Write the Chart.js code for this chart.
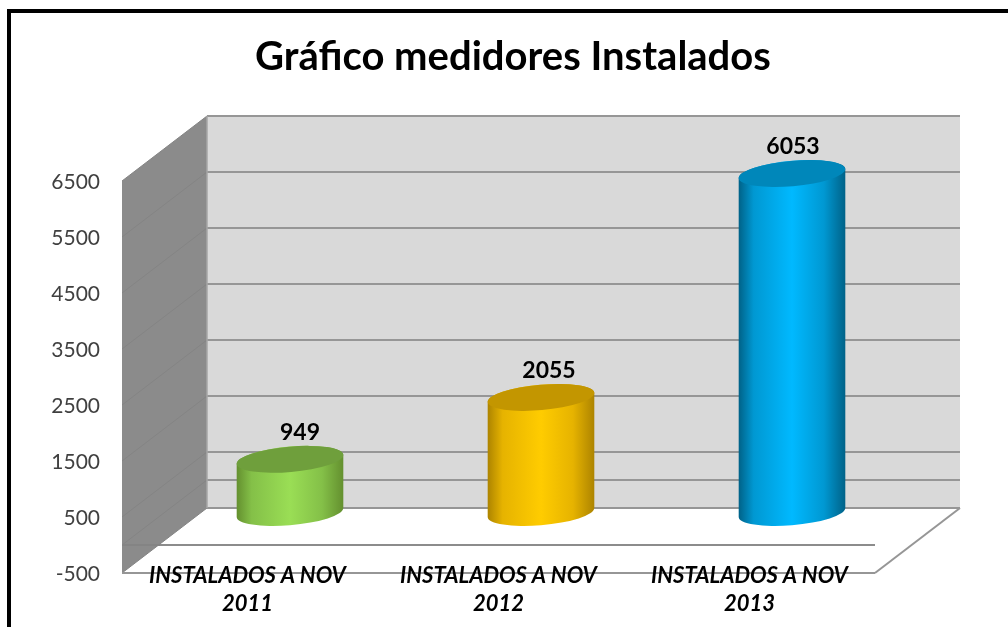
<!DOCTYPE html>
<html><head><meta charset="utf-8">
<style>html,body{margin:0;padding:0;background:#fff}#w{position:absolute;left:0;top:0;width:1008px;height:627px}</style>
<script src="https://cdn.jsdelivr.net/npm/chart.js@4"></script>
</head><body><div id="w"><canvas id="c" width="1008" height="627"></canvas></div>
<script>
const titleText = 'Gráfico medidores Instalados';
const categories = [['INSTALADOS A NOV','2011'],['INSTALADOS A NOV','2012'],['INSTALADOS A NOV','2013']];
const values = [949, 2055, 6053];
const yTicks = [-500,500,1500,2500,3500,4500,5500,6500];
const extraGridValue = 0;
const bright = ['#9ade55','#ffcc00','#00b9ff'];
const dark = ['#64902f','#ad8400','#006288'];
const mid = ['#84c048','#e6b300','#0098d2'];
const topFill = ['#6f9f3c','#c39600','#0087ba'];
const labelShift = [10, 8, 1];

const DX = 85, DY = -65;
const TILT = -5 * Math.PI / 180, RY = 12.7;

// the bars are cylinders, standing half way through the depth of the 3D box
Chart.BarElement.prototype.draw = function (ctx) {
  const idx = this.$context ? this.$context.dataIndex : 0;
  const cx = this.x + DX / 2, ty = this.y + DY / 2, by = this.base + DY / 2;
  const rx = this.width / 2 + 0.5;
  const tR = Math.atan2(-RY * Math.sin(TILT), rx * Math.cos(TILT));
  const px = rx * Math.cos(tR) * Math.cos(TILT) - RY * Math.sin(tR) * Math.sin(TILT);
  const py = rx * Math.cos(tR) * Math.sin(TILT) + RY * Math.sin(tR) * Math.cos(TILT);
  const g = ctx.createLinearGradient(cx - px, 0, cx + px, 0);
  g.addColorStop(0, dark[idx]); g.addColorStop(0.14, mid[idx]); g.addColorStop(0.5, bright[idx]);
  g.addColorStop(0.8, mid[idx]); g.addColorStop(1, dark[idx]);
  ctx.save();
  ctx.beginPath();
  ctx.moveTo(cx + px, ty + py);
  ctx.lineTo(cx + px, by + py);
  ctx.ellipse(cx, by, rx, RY, TILT, tR, tR + Math.PI, false);
  ctx.lineTo(cx - px, ty - py);
  ctx.ellipse(cx, ty, rx, RY, TILT, tR + Math.PI, tR + 2 * Math.PI, false);
  ctx.closePath();
  ctx.fillStyle = g; ctx.fill();
  ctx.beginPath();
  ctx.ellipse(cx, ty, rx, RY, TILT, 0, 2 * Math.PI);
  ctx.fillStyle = topFill[idx]; ctx.fill();
  ctx.restore();
};

const box3d = {
  id: 'box3d',
  afterLayout(chart) {
    chart.titleBlock.left = 18; chart.titleBlock.right = 1008;
    // category labels overlap the floor edge, so they must not be clipped to the axis box
    chart.scales.x._computeLabelArea = () => undefined;
    const y = chart.scales.y, orig = y._computeLabelItems;
    y._computeLabelItems = function (a) {
      const items = orig.call(this, a);
      items.forEach(it => { it.options.translation[1] += 1; });
      return items;
    };
  },
  beforeDraw(chart) {
    const { ctx, chartArea: a, scales: { y } } = chart;
    const line = (x1, y1, x2, y2, col, w) => {
      ctx.beginPath(); ctx.moveTo(x1, y1); ctx.lineTo(x2, y2);
      ctx.strokeStyle = col; ctx.lineWidth = w; ctx.stroke();
    };
    ctx.save();
    ctx.fillStyle = '#fff'; ctx.fillRect(0, 0, 1008, 627);
    const L = a.left, R = a.right, T = a.top, B = a.bottom;
    ctx.fillStyle = '#d9d9d9'; ctx.fillRect(L + DX, T + DY, R - L, B - T);
    ctx.beginPath();
    ctx.moveTo(L, T); ctx.lineTo(L + DX, T + DY); ctx.lineTo(L + DX, B + DY); ctx.lineTo(L, B); ctx.closePath();
    ctx.fillStyle = '#8b8b8b'; ctx.fill();
    for (const v of [...yTicks, extraGridValue]) {
      const p = y.getPixelForValue(v);
      line(L + DX, p + DY, R + DX, p + DY, '#969696', 2);
      line(L, p, L + DX, p + DY, '#848484', 1);
    }
    line(L + DX, T + DY, L + DX, B + DY, '#a6a6a6', 1.5);
    const z = y.getPixelForValue(extraGridValue);
    line(L, z, L + 38, z, '#848484', 2);
    line(L + 38, z, R, z, '#8c8c8c', 2);
    line(L, B, R, B, '#969696', 2);
    line(R, B, R + DX, B + DY, '#969696', 2);
    ctx.restore();
  },
  afterDatasetsDraw(chart) {
    const { ctx } = chart;
    ctx.save();
    ctx.font = 'bold 23px Lato'; ctx.fillStyle = '#000';
    ctx.textAlign = 'center'; ctx.textBaseline = 'middle';
    chart.getDatasetMeta(0).data.forEach((b, i) => {
      ctx.fillText(String(values[i]), b.x + DX / 2 + labelShift[i], b.y + DY / 2 - 27);
    });
    ctx.restore();
  },
  afterDraw(chart) {
    const { ctx } = chart;
    ctx.save();
    ctx.strokeStyle = '#000'; ctx.lineWidth = 4;
    ctx.beginPath();
    ctx.moveTo(9, 627); ctx.lineTo(9, 11); ctx.lineTo(1008, 11);
    ctx.stroke();
    ctx.restore();
  }
};

new Chart(document.getElementById('c'), {
  type: 'bar',
  plugins: [box3d],
  data: { labels: categories, datasets: [{ data: values, backgroundColor: bright, barThickness: 106, clip: false }] },
  options: {
    responsive: false, animation: false,
    layout: { padding: { left: 0, right: 133, top: 0, bottom: 0 } },
    plugins: {
      legend: { display: false }, tooltip: { enabled: false },
      title: { display: true, text: titleText, color: '#000',
        font: { family: 'Lato', size: 40, weight: 'bold', lineHeight: 1.2 },
        padding: { top: 33, bottom: 100 } }
    },
    scales: {
      x: {
        grid: { display: false, drawTicks: false }, border: { display: false },
        ticks: { color: '#000', maxRotation: 0, autoSkip: false, padding: -11,
          font: { family: 'Lato', size: 22, weight: 'bold', style: 'italic', lineHeight: 1.27 } },
        afterFit(s) { s.height = 54; }
      },
      y: {
        min: -500, max: 6500,
        afterBuildTicks(s) { s.ticks = yTicks.map(v => ({ value: v })); },
        grid: { display: false, drawTicks: false }, border: { display: false },
        ticks: { color: '#404040', padding: 22, font: { family: 'Lato', size: 21 }, callback: v => String(v) },
        afterFit(s) { s.width = 122; }
      }
    }
  }
});
</script></body></html>
